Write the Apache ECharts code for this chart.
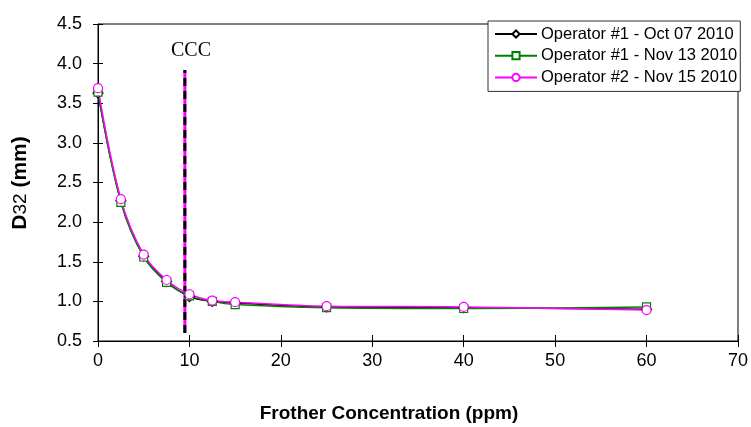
<!DOCTYPE html>
<html>
<head>
<meta charset="utf-8">
<script src="https://cdn.jsdelivr.net/npm/echarts@6/dist/echarts.min.js"></script>
<style>
  html, body { margin: 0; padding: 0; background: #fff; }
  #chart { width: 751px; height: 427px; }
</style>
</head>
<body>
<div id="chart"></div>
<script>
// Frother concentration (ppm) at which D32 was measured
const concentration = [0, 2.5, 5, 7.5, 10, 12.5, 15, 25, 40, 60];

// Sauter mean diameter D32 (mm) per run
const oct07 = [3.63, 2.27, 1.57, 1.25, 1.06, 1.00, 0.98, 0.93, 0.92, 0.90];
const nov13 = [3.64, 2.25, 1.56, 1.24, 1.07, 1.00, 0.96, 0.92, 0.91, 0.93];
const nov15 = [3.69, 2.29, 1.59, 1.27, 1.09, 1.01, 0.99, 0.94, 0.93, 0.89];

const seriesNames = ['Operator #1 - Oct 07 2010', 'Operator #1 - Nov 13 2010', 'Operator #2 - Nov 15 2010'];

// Critical coalescence concentration marker
const cccValue = 9.5;
const cccSpan = [0.6, 3.92];

const xTicks = { min: 0, max: 70, interval: 10 };
const yTicks = { min: 0.5, max: 4.5, interval: 0.5 };

const pairs = ys => concentration.map((x, i) => [x, ys[i]]);

const chart = echarts.init(document.getElementById('chart'), null, { renderer: 'canvas' });

const sans = 'Arial, "Liberation Sans", sans-serif';
const labelStyle = { fontFamily: sans, fontSize: 18, color: '#000' };

function dataSeries(name, ys, color, symbol, size) {
  return {
    name: name,
    type: 'line',
    data: pairs(ys),
    smooth: 0.35,
    symbol: symbol,
    symbolSize: size,
    showSymbol: true,
    lineStyle: { color: color, width: 1.5 },
    itemStyle: { color: '#fff', borderColor: color, borderWidth: 1.2 },
    emphasis: { disabled: true },
    z: 3
  };
}

const option = {
  animation: false,
  backgroundColor: '#fff',
  grid: {
    left: 98, right: 13, top: 24, bottom: 86,
    show: true, borderColor: '#000', borderWidth: 1, backgroundColor: 'transparent'
  },
  legend: {
    data: seriesNames,
    orient: 'vertical',
    left: 488, top: 21,
    backgroundColor: '#fff',
    borderColor: '#333', borderWidth: 1,
    padding: [4, 3, 5, 6],
    itemWidth: 42, itemHeight: 9,
    itemGap: 3.7,
    textStyle: { fontFamily: sans, fontSize: 16.5, lineHeight: 18, color: '#000', padding: [0, 0, 0, -1] }
  },
  xAxis: [
    {
      type: 'value', position: 'bottom',
      min: xTicks.min, max: xTicks.max, interval: xTicks.interval,
      axisLine: { show: true, lineStyle: { color: '#000', width: 1 } },
      axisTick: { show: true, inside: false, length: 6, lineStyle: { color: '#000' } },
      axisLabel: Object.assign({ margin: 11 }, labelStyle),
      splitLine: { show: false }
    },
    {
      type: 'value', position: 'bottom',
      min: xTicks.min, max: xTicks.max, interval: xTicks.interval,
      axisLine: { show: false },
      axisTick: { show: true, inside: true, length: 6, lineStyle: { color: '#000' } },
      axisLabel: { show: false },
      splitLine: { show: false }
    }
  ],
  yAxis: [
    {
      type: 'value', position: 'left',
      min: yTicks.min, max: yTicks.max, interval: yTicks.interval,
      axisLine: { show: true, lineStyle: { color: '#000', width: 1 } },
      axisTick: { show: true, inside: false, length: 5, lineStyle: { color: '#000' } },
      axisLabel: Object.assign({ margin: 16, formatter: v => v.toFixed(1) }, labelStyle),
      splitLine: { show: false }
    },
    {
      type: 'value', position: 'left',
      min: yTicks.min, max: yTicks.max, interval: yTicks.interval,
      axisLine: { show: false },
      axisTick: { show: true, inside: true, length: 5, lineStyle: { color: '#000' } },
      axisLabel: { show: false },
      splitLine: { show: false }
    }
  ],
  series: [
    // CCC marker: magenta underlay with black dashes on top
    {
      name: 'CCC-under', type: 'line', silent: true, symbol: 'none',
      data: [[cccValue, cccSpan[0]], [cccValue, cccSpan[1]]],
      lineStyle: { color: '#ff00ff', width: 3, type: 'solid' }, z: 1
    },
    {
      name: 'CCC', type: 'line', silent: true, symbol: 'none',
      data: [[cccValue, cccSpan[0]], [cccValue, cccSpan[1]]],
      lineStyle: { color: '#000', width: 3, type: [8, 5] }, z: 2
    },
    dataSeries(seriesNames[0], oct07, '#000000', 'diamond', 10),
    dataSeries(seriesNames[1], nov13, '#008000', 'rect', 8),
    dataSeries(seriesNames[2], nov15, '#ff00ff', 'circle', 9)
  ],
  graphic: [
    {
      type: 'text', x: 191, y: 51,
      style: { text: 'CCC', font: '20px "Liberation Serif", "Times New Roman", serif', fill: '#000', align: 'center', verticalAlign: 'middle' }
    },
    {
      type: 'text', x: 389, y: 414,
      style: { text: 'Frother Concentration (ppm)', font: 'bold 19px ' + sans, fill: '#000', align: 'center', verticalAlign: 'middle' }
    },
    {
      type: 'text', x: 20, y: 183, rotation: Math.PI / 2,
      style: {
        text: '{b|D}{n|32}{b| (mm)}',
        align: 'center', verticalAlign: 'middle',
        rich: {
          b: { font: 'bold 21px ' + sans, fill: '#000' },
          n: { font: '19px ' + sans, fill: '#000', padding: [2, 0, 0, 0] }
        }
      }
    }
  ]
};

chart.setOption(option);
</script>
</body>
</html>
